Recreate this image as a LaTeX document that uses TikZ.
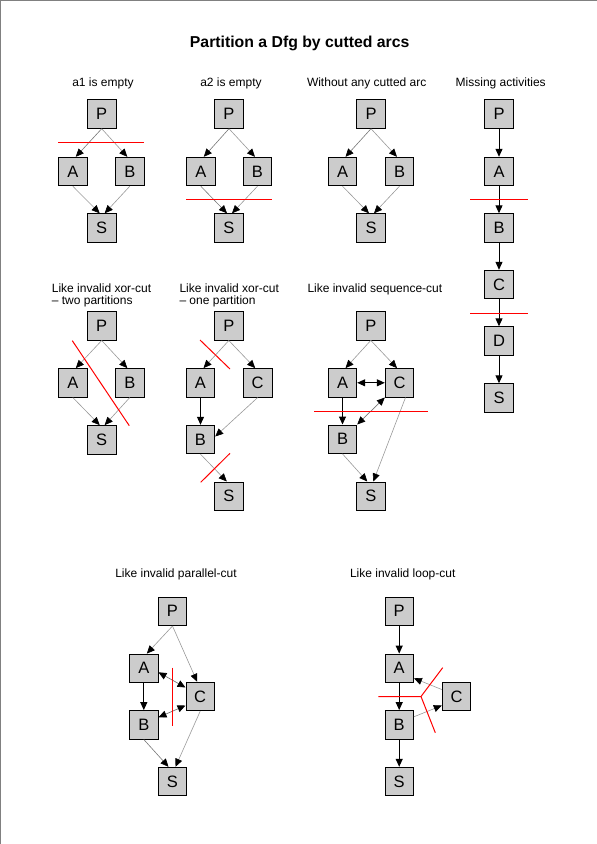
\documentclass[tikz,border=0pt]{standalone}
\usepackage{fontspec}
\setmainfont{Liberation Sans}
\usetikzlibrary{arrows.meta}
\definecolor{boxgray}{HTML}{CCCCCC}
\definecolor{edgegray}{HTML}{999999}
\definecolor{dedge}{HTML}{777777}
\tikzset{
  box/.style={draw, fill=boxgray, minimum width=28.5pt, minimum height=28.5pt, inner sep=0pt, line width=0.9pt, font=\fontsize{16.5}{17}\selectfont},
  tip/.tip={Triangle[length=8pt,width=7pt,color=black]},
  ge/.style={draw=edgegray, line width=0.6pt, -tip},
  de/.style={draw=dedge, line width=0.6pt, -tip},
  be/.style={draw=black, line width=1pt, -tip},
  bd/.style={draw=black, line width=1pt, tip-tip},
  dd/.style={draw=dedge, line width=0.7pt, tip-tip},
  cut/.style={draw=red, line width=1pt},
  ttl/.style={font=\fontsize{12}{12.7}\selectfont, inner sep=0pt, anchor=base},
  ttlw/.style={font=\fontsize{12}{12.7}\selectfont, inner sep=0pt, anchor=base west},
}
\begin{document}
\begin{tikzpicture}[x=1pt,y=-1pt]
\useasboundingbox (0,0) rectangle (597,844);
\draw[gray, line width=1.2pt] (0.6,844) -- (0.6,0.6) -- (597,0.6);

\node[font=\bfseries\fontsize{15.8}{16}\selectfont, inner sep=0pt, anchor=base] (title) at (299.7,47.7) {Partition a Dfg by cutted arcs};

% ---- Diagram 1
\node[ttl] (t1) at (103,86) {a1 is empty};
\node[box] (P1) at (101.7,114) {P};
\node[box] (A1) at (72.8,171.5) {A};
\node[box] (B1) at (129.8,171.5) {B};
\node[box] (S1) at (101.7,228) {S};
\draw[de] (P1.south) -- ([xshift=3pt]A1.north);
\draw[ge] (P1.south) -- ([xshift=-2.5pt]B1.north);
\draw[ge] (A1.south) -- ([xshift=-2pt]S1.north);
\draw[ge] (B1.south) -- ([xshift=3pt]S1.north);
\draw[cut] (58.3,142.5) -- (144,142.5);

% ---- Diagram 2
\node[ttl] (t2) at (231,86) {a2 is empty};
\node[box] (P2) at (229,114) {P};
\node[box] (A2) at (200.8,171.5) {A};
\node[box] (B2) at (257.5,171.5) {B};
\node[box] (S2) at (229,228) {S};
\draw[de] (P2.south) -- ([xshift=3pt]A2.north);
\draw[ge] (P2.south) -- ([xshift=-2.5pt]B2.north);
\draw[de] (A2.south) -- ([xshift=-2pt]S2.north);
\draw[ge] (B2.south) -- ([xshift=3pt]S2.north);
\draw[cut] (186,199.5) -- (271.7,199.5);

% ---- Diagram 3
\node[ttl] (t3) at (366.7,86) {Without any cutted arc};
\node[box] (P3) at (371,114) {P};
\node[box] (A3) at (342.5,171.5) {A};
\node[box] (B3) at (399.5,171.5) {B};
\node[box] (S3) at (371,228) {S};
\draw[de] (P3.south) -- ([xshift=3pt]A3.north);
\draw[ge] (P3.south) -- ([xshift=-2.5pt]B3.north);
\draw[ge] (A3.south) -- ([xshift=-2pt]S3.north);
\draw[ge] (B3.south) -- ([xshift=3pt]S3.north);

% ---- Diagram 4
\node[ttl] (t4) at (500.7,86) {Missing activities};
\node[box] (P4) at (499,114) {P};
\node[box] (A4) at (499,171.5) {A};
\node[box] (B4) at (499,228) {B};
\node[box] (C4) at (499,284.5) {C};
\node[box] (D4) at (499,341) {D};
\node[box] (S4) at (499,398) {S};
\draw[be] (P4) -- (A4);
\draw[be] (A4) -- (B4);
\draw[be] (B4) -- (C4);
\draw[be] (C4) -- (D4);
\draw[be] (D4) -- (S4);
\draw[cut] (470,199.5) -- (527.7,199.5);
\draw[cut] (470,313.5) -- (527.7,313.5);

% ---- Diagram 5
\node[ttlw] (t5a) at (51.7,292.3) {Like invalid xor-cut};
\node[ttlw] (t5b) at (51.7,304.8) {– two partitions};
\node[box] (P5) at (101.7,325.8) {P};
\node[box] (A5) at (72.8,382.8) {A};
\node[box] (B5) at (129.8,382.8) {B};
\node[box] (S5) at (101.7,439.8) {S};
\draw[ge] (P5.south) -- ([xshift=3pt]A5.north);
\draw[ge] (P5.south) -- ([xshift=-2.5pt]B5.north);
\draw[ge] (A5.south) -- ([xshift=-2pt]S5.north);
\draw[ge] (B5.south) -- ([xshift=3pt]S5.north);
\draw[cut] (72.3,340.7) -- (129.3,425.7);

% ---- Diagram 6
\node[ttlw] (t6a) at (179.3,292.3) {Like invalid xor-cut};
\node[ttlw] (t6b) at (179.3,304.8) {– one partition};
\node[box] (P6) at (228.8,325.8) {P};
\node[box] (A6) at (200.5,382.8) {A};
\node[box] (C6) at (257.7,382.8) {C};
\node[box] (B6) at (200.5,439.5) {B};
\node[box] (S6) at (228.8,496.2) {S};
\draw[ge] (P6.south) -- ([xshift=3pt]A6.north);
\draw[ge] (P6.south) -- ([xshift=-2.5pt]C6.north);
\draw[be] (A6) -- (B6);
\draw[ge] (C6.south) -- ([yshift=3pt]B6.east);
\draw[ge] (B6.south) -- ([xshift=-2pt]S6.north);
\draw[cut] (200,340) -- (230,369);
\draw[cut] (200.7,482.3) -- (230,453.3);

% ---- Diagram 7
\node[ttlw] (t7) at (307.3,292.3) {Like invalid sequence-cut};
\node[box] (P7) at (370.8,325.7) {P};
\node[box] (A7) at (342.5,382.8) {A};
\node[box] (C7) at (399.5,382.8) {C};
\node[box] (B7) at (342.5,439.2) {B};
\node[box] (S7) at (370.8,496.2) {S};
\draw[ge] (P7.south) -- ([xshift=3pt]A7.north);
\draw[ge] (P7.south) -- ([xshift=-2.5pt]C7.north);
\draw[bd] (A7.east) -- (C7.west);
\draw[be] (A7) -- (B7);
\draw[dd] (B7.north east) -- (C7.south west);
\draw[ge] (B7.south) -- ([xshift=-3.5pt]S7.north);
\draw[ge] ([xshift=6pt]C7.south) -- ([xshift=2.5pt]S7.north);
\draw[cut] (314,411.5) -- (427.7,411.5);

% ---- Diagram 8
\node[ttl] (t8) at (176,577.3) {Like invalid parallel-cut};
\node[box] (P8) at (172.5,611.3) {P};
\node[box] (A8) at (143.8,668.3) {A};
\node[box] (C8) at (200.2,696.5) {C};
\node[box] (B8) at (143.8,724.8) {B};
\node[box] (S8) at (172.5,781.5) {S};
\draw[ge] (P8.south) -- ([xshift=3pt]A8.north);
\draw[ge] (P8.south) -- ([xshift=-3pt]C8.north);
\draw[dd] ([yshift=-4pt]A8.east) -- ([yshift=9pt]C8.west);
\draw[dd] ([yshift=-9pt]C8.west) -- ([yshift=7.5pt]B8.east);
\draw[be] (A8) -- (B8);
\draw[de] (B8.south) -- ([xshift=-4pt]S8.north);
\draw[ge] (C8.south) -- ([xshift=3pt]S8.north);
\draw[cut] (172.5,667.7) -- (172.5,725.7);

% ---- Diagram 9
\node[ttl] (t9) at (402.7,577.3) {Like invalid loop-cut};
\node[box] (P9) at (399.2,611.3) {P};
\node[box] (A9) at (399.2,668.3) {A};
\node[box] (B9) at (399.2,724.8) {B};
\node[box] (S9) at (399.2,781.5) {S};
\node[box] (C9) at (456.5,696.5) {C};
\draw[be] (P9) -- (A9);
\draw[be] (A9) -- (B9);
\draw[be] (B9) -- (S9);
\draw[ge] ([yshift=7pt]C9.west) -- ([yshift=-10pt]A9.east);
\draw[ge] ([yshift=8pt]B9.east) -- ([yshift=-9pt]C9.west);
\draw[cut] (378.3,696.5) -- (421,696.5) -- (442.7,667.7);
\draw[cut] (421,696.5) -- (435.3,732.7);
\end{tikzpicture}
\end{document}
